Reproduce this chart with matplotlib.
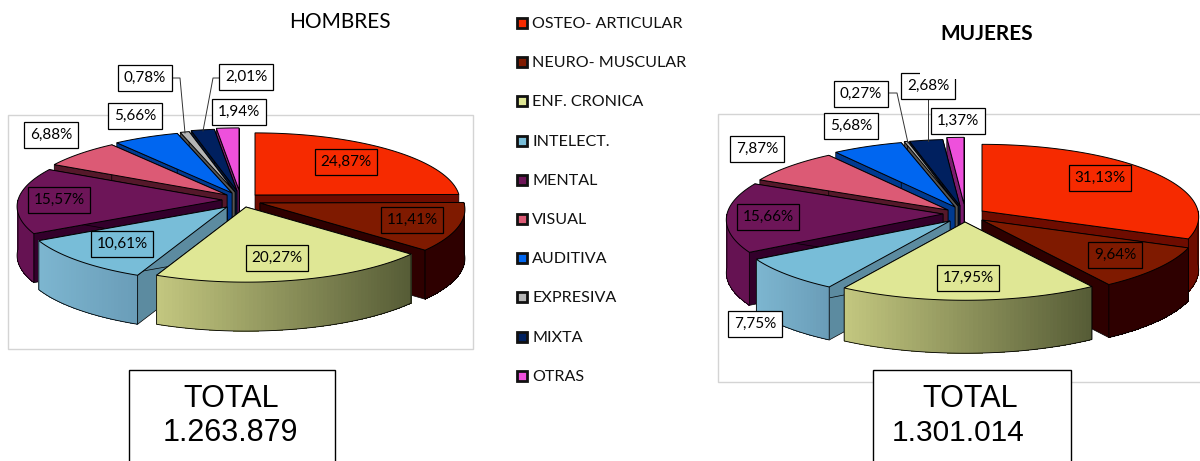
import numpy as np
import matplotlib
matplotlib.use('Agg')
import matplotlib.pyplot as plt
from matplotlib.colors import to_rgb
from matplotlib.patches import Rectangle

categorias = ['OSTEO- ARTICULAR', 'NEURO- MUSCULAR', 'ENF. CRONICA', 'INTELECT.', 'MENTAL',
              'VISUAL', 'AUDITIVA', 'EXPRESIVA', 'MIXTA', 'OTRAS']
hombres = [24.87, 11.41, 20.27, 10.61, 15.57, 6.88, 5.66, 0.78, 2.01, 1.94]
mujeres = [31.13, 9.64, 17.95, 7.75, 15.66, 7.87, 5.68, 0.27, 2.68, 1.37]
total_hombres = '1.263.879'
total_mujeres = '1.301.014'

# colores: cara superior, pared izq. y pared der.
color_top = ['#F62A00', '#7F1A00', '#DFE795', '#78BDD8', '#6D1558',
             '#DC5A75', '#0066F0', '#B5B5B5', '#00205F', '#EE50DC']
color_left = ['#6E0C00', '#2E0000', '#C4C880', '#7DB6D0', '#651252',
              '#55182A', '#003A90', '#555555', '#00143A', '#7A1B6E']
color_right = ['#6E0C00', '#2E0000', '#565C36', '#6A9DB8', '#651252',
               '#55182A', '#003A90', '#555555', '#00143A', '#7A1B6E']
color_radial = ['#6E0C00', '#2E0000', '#565C36', '#5C8BA0', '#33002B',
                '#55182A', '#003A90', '#555555', '#00143A', '#7A1B6E']

# vertice de cada porcion en pixeles (explosion del grafico)
apex_h = [(255, 195), (260, 203), (246, 207), (227, 207), (222, 200),
          (227, 195), (232, 193), (235, 192), (237, 191), (239, 190)]
apex_m = [(982, 211), (982, 220), (965, 222), (950, 221), (943, 214),
          (948, 210), (955, 207), (958, 206), (960, 206), (964, 204)]

# posicion de las etiquetas (centro) y relleno
etq_h = [(346, 162), (412, 220), (277, 258), (122, 244), (59, 200),
         (51, 135), (135, 116), (145, 78), (246, 77), (239, 112)]
etq_m = [(1100, 178), (1115, 255), (968, 278), (755, 324), (768, 217),
         (757, 149), (851, 126), (861, 94), (928, 86), (958, 121)]
fondo_h = ['none', 'none', 'none', 'none', 'none', 'white', 'white', 'white', 'white', 'white']
fondo_m = ['none', 'none', 'none', 'white', 'none', 'white', 'white', 'white', 'white', 'white']


def proyectar(apex, ang, r, ry, p):
    # ang en radianes, horario desde las 12; perspectiva simple
    u, v = np.sin(ang), np.cos(ang)
    w = 1 + p * v
    return apex[0] + r * u / w, apex[1] - ry * v / w


def torta(ax, valores, apices, r, ry, p, h):
    fin = np.cumsum(valores) / sum(valores) * 2 * np.pi
    ini = np.concatenate(([0], fin[:-1]))
    medio = (ini + fin) / 2
    # de atras hacia adelante
    for i in np.argsort(-np.cos(medio)):
        apex = apices[i]
        t = np.linspace(ini[i], fin[i], max(int(np.degrees(fin[i] - ini[i])), 2) + 1)
        x, y = proyectar(apex, t, r, ry, p)

        # paredes radiales
        for k in [0, -1]:
            ax.fill([apex[0], x[k], x[k], apex[0]], [apex[1], y[k], y[k] + h, apex[1] + h],
                    facecolor=color_radial[i], edgecolor='black', linewidth=0.5, zorder=2)

        # pared exterior con degradado
        frente = np.cos(t) <= 0
        if frente.sum() > 1:
            xf, yf = x[frente], y[frente]
            c0, c1 = np.array(to_rgb(color_left[i])), np.array(to_rgb(color_right[i]))
            for j in range(len(xf) - 1):
                f = (xf[j] - xf.min()) / max(xf.max() - xf.min(), 1)
                c = c0 + (c1 - c0) * f
                ax.fill([xf[j], xf[j + 1], xf[j + 1], xf[j]],
                        [yf[j], yf[j + 1], yf[j + 1] + h, yf[j] + h],
                        facecolor=c, edgecolor='none', antialiased=False, zorder=2)
            ax.plot(np.r_[xf[0], xf, xf[-1]], np.r_[yf[0], yf + h, yf[-1]],
                    color='black', linewidth=0.6, zorder=2)

        # cara superior
        ax.fill(np.r_[apex[0], x], np.r_[apex[1], y], facecolor=color_top[i],
                edgecolor='black', linewidth=0.7, zorder=2)


def etiquetas(ax, valores, posiciones, fondos):
    for v, (x, y), fondo in zip(valores, posiciones, fondos):
        texto = f'{v:.2f}'.replace('.', ',') + '%'
        ax.text(x, y, texto, ha='center', va='center', fontsize=11, family='Lato', color='black',
                zorder=5, bbox=dict(boxstyle='square,pad=0.38', facecolor=fondo,
                                    edgecolor='black', linewidth=0.9))


fig = plt.figure(figsize=(12, 4.61), dpi=100)
ax = fig.add_axes([0, 0, 1, 1])
ax.set_xlim(0, 1200)
ax.set_ylim(461, 0)
ax.axis('off')

# marcos grises
ax.add_patch(Rectangle((8, 115), 465, 234, facecolor='white', edgecolor='#D4D4D4', linewidth=1, zorder=1))
ax.add_patch(Rectangle((718, 114), 490, 268, facecolor='white', edgecolor='#D4D4D4', linewidth=1, zorder=1))

torta(ax, hombres, apex_h, 204, 68, 0.095, 49)
torta(ax, mujeres, apex_m, 216, 72, 0.08, 53)

# lineas guia
ax.plot([171, 180, 185], [78, 78, 133], color='#333333', linewidth=0.7, zorder=4)
ax.plot([220, 213, 203], [78, 78, 131], color='#333333', linewidth=0.7, zorder=4)
ax.plot([887, 897, 908], [93, 93, 143], color='#333333', linewidth=0.7, zorder=4)
ax.plot([928, 928], [99, 141], color='#333333', linewidth=0.7, zorder=4)

etiquetas(ax, hombres, etq_h, fondo_h)
etiquetas(ax, mujeres, etq_m, fondo_m)

# recorte blanco sobre la etiqueta 2,68%
ax.add_patch(Rectangle((920, 68), 40, 11, facecolor='white', edgecolor='none', zorder=6))

# titulos
ax.text(340, 22, 'HOMBRES', ha='center', va='center', fontsize=15, family='Lato')
ax.text(987, 34, 'MUJERES', ha='center', va='center', fontsize=15, family='Lato', fontweight='bold')

# leyenda
for i, nombre in enumerate(categorias):
    y = 23.5 + i * 39.2
    ax.add_patch(Rectangle((517, y - 5.5), 10, 10, facecolor=color_top[i], edgecolor='#111111', linewidth=2, zorder=3))
    ax.text(532, y + 0.5, nombre, ha='left', va='center', fontsize=11.6, family='Lato', color='#111111')

# cuadros de total
ax.add_patch(Rectangle((129, 370), 206, 110, facecolor='white', edgecolor='black', linewidth=1, zorder=3))
ax.add_patch(Rectangle((873, 370), 198, 110, facecolor='white', edgecolor='black', linewidth=1, zorder=3))
ax.text(231, 399, 'TOTAL', ha='center', va='center', fontsize=22, family='Liberation Sans', zorder=4)
ax.text(230, 433, total_hombres, ha='center', va='center', fontsize=22, family='Liberation Sans', zorder=4)
ax.text(970, 399, 'TOTAL', ha='center', va='center', fontsize=22, family='Liberation Sans', zorder=4)
ax.text(958, 433, total_mujeres, ha='center', va='center', fontsize=21.5, family='Liberation Sans', zorder=4)

fig.savefig('out.png', dpi=100)
